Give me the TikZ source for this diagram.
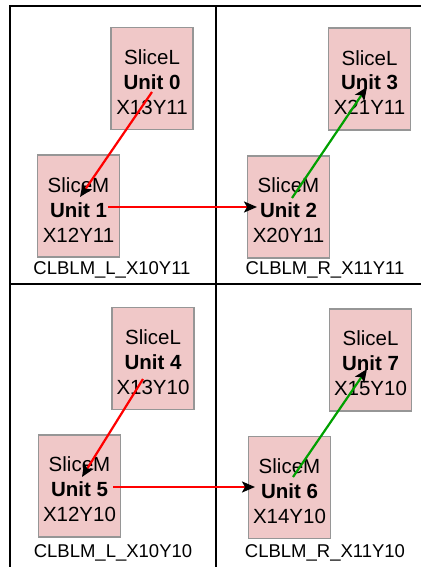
\documentclass[tikz,border=0pt]{standalone}
\usepackage{fontspec}
\setmainfont{Liberation Sans}
\usetikzlibrary{arrows.meta,calc}
\definecolor{slicefill}{RGB}{240,200,200}
\definecolor{sliceedge}{RGB}{150,150,150}
\definecolor{routegreen}{RGB}{0,160,0}
% extra head room so the three text lines sit a little low in each slice
\newcommand\slicepad{\rule{0pt}{22pt}}
\begin{document}
\begin{tikzpicture}[x=1pt,y=-1pt,
  tile/.style={draw=black,line width=2pt},
  slice/.style={draw=sliceedge,fill=slicefill,line width=1.5pt,
    minimum width=82pt,minimum height=102pt,inner sep=0pt,
    align=center,font=\fontsize{20.5}{25}\selectfont},
  tilename/.style={font=\fontsize{18.5}{20}\selectfont,inner sep=0pt},
  tip/.style={-{Stealth[length=13pt,width=11pt,inset=3pt,color=black,fill=black]}},
  redwire/.style={tip,draw=red,line width=2.2pt},
  greenwire/.style={tip,draw=routegreen,line width=2.2pt}]
\useasboundingbox (0,0) rectangle (420,567);

% CLB tiles
\draw[tile] (9.5,6) rectangle (216,284);
\draw[tile] (216,6) rectangle (430,284);
\draw[tile] (9.5,284) rectangle (216,580);
\draw[tile] (216,284) rectangle (430,580);

% slices
\node[slice] (u0) at (152,78.5) {\slicepad SliceL\\\textbf{Unit 0}\\X13Y11};
\node[slice] (u1) at (78.5,206) {\slicepad SliceM\\\textbf{Unit 1}\\X12Y11};
\node[slice] (u2) at (288.5,207) {\slicepad SliceM\\\textbf{Unit 2}\\X20Y11};
\node[slice] (u3) at (369.5,79) {\slicepad SliceL\\\textbf{Unit 3}\\X21Y11};
\node[slice] (u4) at (153,358.5) {\slicepad SliceL\\\textbf{Unit 4}\\X13Y10};
\node[slice] (u5) at (79.5,486) {\slicepad SliceM\\\textbf{Unit 5}\\X12Y10};
\node[slice] (u6) at (289.5,487.5) {\slicepad SliceM\\\textbf{Unit 6}\\X14Y10};
\node[slice] (u7) at (370.5,360) {\slicepad SliceL\\\textbf{Unit 7}\\X15Y10};

% tile names
\node[tilename] (t0) at (112,270) {CLBLM\_L\_X10Y11};
\node[tilename] (t1) at (325,270) {CLBLM\_R\_X11Y11};
\node[tilename] (t2) at (113,553) {CLBLM\_L\_X10Y10};
\node[tilename] (t3) at (325,553) {CLBLM\_R\_X11Y10};

% wire end points inside the slices
\coordinate (a0) at ($(u0.center)+(0,13.5)$);
\coordinate (b1) at ($(u1.center)+(1.5,-9)$);
\coordinate (a1) at ($(u1.center)+(29.5,1)$);
\coordinate (b2) at ($(u2.center)+(-31.5,0)$);
\coordinate (a2) at ($(u2.center)+(3.5,-9)$);
\coordinate (b3) at ($(u3.center)+(-2.5,8)$);
\coordinate (a4) at ($(u4.center)+(-10,20.5)$);
\coordinate (b5) at ($(u5.center)+(2.5,-9)$);
\coordinate (a5) at ($(u5.center)+(33.5,1)$);
\coordinate (b6) at ($(u6.center)+(-34.5,-0.5)$);
\coordinate (a6) at ($(u6.center)+(3.5,-10.5)$);
\coordinate (b7) at ($(u7.center)+(-3.5,9)$);

% routes
\draw[redwire] (a0) -- (b1);
\draw[redwire] (a1) -- (b2);
\draw[greenwire] (a2) -- (b3);
\draw[redwire] (a4) -- (b5);
\draw[redwire] (a5) -- (b6);
\draw[greenwire] (a6) -- (b7);
\end{tikzpicture}
\end{document}
